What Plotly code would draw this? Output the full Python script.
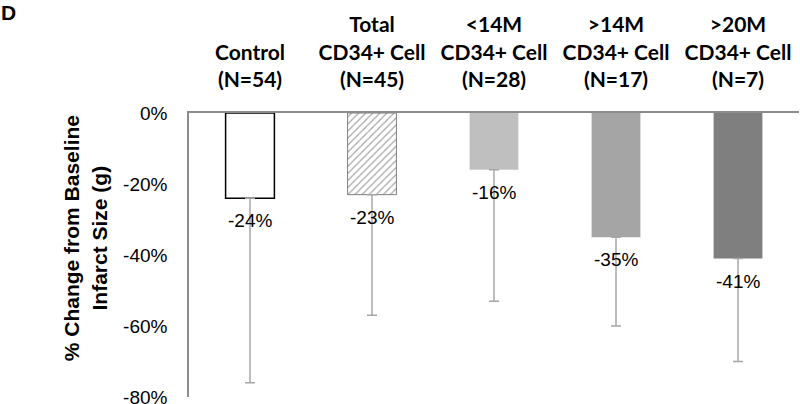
import plotly.graph_objects as go

categories = ["Control<br>(N=54)", "Total<br>CD34+ Cell<br>(N=45)", "<14M<br>CD34+ Cell<br>(N=28)",
              ">14M<br>CD34+ Cell<br>(N=17)", ">20M<br>CD34+ Cell<br>(N=7)"]
values = [-0.24, -0.23, -0.16, -0.35, -0.41]
value_labels = ["-24%", "-23%", "-16%", "-35%", "-41%"]
errors_minus = [0.52, 0.34, 0.37, 0.25, 0.29]
tick_vals = [0, -0.2, -0.4, -0.6, -0.8]
tick_text = ["0%", "-20%", "-40%", "-60%", "-80%"]

fill_colors = ["#ffffff", "#ffffff", "#bfbfbf", "#a5a5a5", "#7f7f7f"]
line_colors = ["#000000", "#7f7f7f", "#bfbfbf", "#a5a5a5", "#7f7f7f"]
line_widths = [1.5, 1, 0, 0, 0]
pattern_shapes = ["", "/", "", "", ""]

fig = go.Figure()
fig.add_trace(go.Bar(
    x=categories, y=values,
    width=0.4,
    marker=dict(color=fill_colors,
                line=dict(color=line_colors, width=line_widths),
                pattern=dict(shape=pattern_shapes, fgcolor="#8c8c8c", bgcolor="#ffffff",
                             size=5, solidity=0.22)),
    error_y=dict(type="data", symmetric=False, array=[0]*5, arrayminus=errors_minus,
                 color="#a6a6a6", thickness=1.5, width=5),
    showlegend=False,
    hoverinfo="skip",
))

for c, v, t in zip(categories, values, value_labels):
    fig.add_annotation(x=c, y=v, text=t, showarrow=False, yanchor="top", yshift=-10,
                       font=dict(family="Liberation Sans, Arial", size=19, color="#000000"))

fig.add_annotation(xref="paper", yref="paper", x=-0.17, y=0.56,
                   text="<b>% Change from Baseline<br>Infarct Size (g)</b>", textangle=-90,
                   showarrow=False, xanchor="center", yanchor="middle",
                   font=dict(family="Liberation Sans, Arial", size=21, color="#000000"))

fig.add_annotation(xref="paper", yref="paper", x=-0.312, y=1.40, text="<b>D</b>",
                   showarrow=False, xanchor="left", yanchor="top",
                   font=dict(family="Liberation Sans, Arial", size=21, color="#000000"))

fig.update_layout(
    width=800, height=404,
    margin=dict(l=189, r=1, t=113, b=7),
    paper_bgcolor="white", plot_bgcolor="white",
    bargap=0.6,
    xaxis=dict(side="top", showline=True, linecolor="#8c8c8c", linewidth=1.5, automargin=False,
               showgrid=False, zeroline=False, ticks="", ticklabelstandoff=16,
               tickfont=dict(family="Lato", size=21, color="#000000", weight="bold")),
    yaxis=dict(range=[-0.8, 0], showline=True, linecolor="#8c8c8c", linewidth=1.5, automargin=False,
               showgrid=False, zeroline=False, ticks="", tickvals=tick_vals, ticktext=tick_text,
               ticklabelstandoff=16, ticklabeloverflow="allow",
               tickfont=dict(family="Liberation Sans, Arial", size=19, color="#000000")),
)

fig.write_html("out.html", config={"displayModeBar": False},
               post_script="document.body.style.margin='0';")
